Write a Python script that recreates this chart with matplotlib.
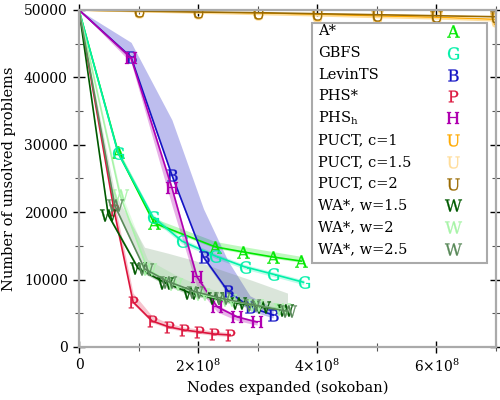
import matplotlib.pyplot as plt
import numpy as np
from matplotlib.lines import Line2D
from matplotlib.patches import Rectangle
from matplotlib.ticker import MultipleLocator, FixedLocator, FixedFormatter

plt.rcParams['font.family'] = 'DejaVu Serif'
plt.rcParams['mathtext.fontset'] = 'dejavuserif'

# x values are in units of 1e8 nodes expanded
astar_x = [0, 0.655, 1.26, 2.29, 2.76, 3.26, 3.73]
astar_y = [50000, 28900, 18400, 14850, 14100, 13350, 12750]
astar_lo = [50000, 28600, 18100, 14650, 13900, 13150, 12550]
astar_hi = [50000, 29400, 19100, 15650, 14900, 14150, 13450]

gbfs_x = [0, 0.655, 1.24, 1.73, 2.29, 2.78, 3.26, 3.77]
gbfs_y = [50000, 28800, 19300, 15700, 13500, 11900, 10800, 9600]
gbfs_lo = [50000, 28400, 18900, 15300, 13150, 11550, 10450, 9250]
gbfs_hi = [50000, 29200, 19700, 16100, 13850, 12250, 11150, 9950]

levin_x = [0, 0.874, 1.56, 2.09, 2.5, 2.87, 3.26]
levin_y = [50000, 43000, 25500, 13350, 8300, 5900, 4750]
levin_lo = [50000, 42600, 25000, 13000, 7800, 5400, 4300]
levin_hi = [50000, 45200, 33700, 20500, 12800, 7600, 5800]

phs_x = [0, 0.588, 0.908, 1.227, 1.513, 1.765, 2.017, 2.269, 2.538]
phs_y = [50000, 20300, 6680, 3860, 2970, 2520, 2230, 1930, 1780]
phs_lo = [50000, 20000, 6400, 3600, 2750, 2300, 2000, 1700, 1550]
phs_hi = [50000, 21800, 8000, 4600, 3500, 2950, 2650, 2350, 2150]

phsh_x = [0, 0.874, 1.56, 1.98, 2.32, 2.66, 2.99]
phsh_y = [50000, 42900, 23600, 10400, 5950, 4450, 3700]
phsh_lo = [50000, 42200, 21000, 8900, 5200, 3900, 3250]
phsh_hi = [50000, 43200, 23900, 10800, 6250, 4650, 3900]

puct_x = [0, 1, 2, 3, 4, 5, 6, 7]
puct1_y = [50000, 49800, 49650, 49500, 49300, 49100, 48900, 48600]
puct15_y = [50000, 49750, 49550, 49350, 49150, 48900, 48700, 48400]
puct2_y = [50000, 49850, 49700, 49600, 49450, 49300, 49150, 49000]

wa15_x = [0, 0.49, 0.99, 1.45, 1.87, 2.29, 2.67, 3.08, 3.46]
wa15_y = [50000, 19600, 11700, 9500, 8000, 7200, 6500, 5900, 5500]
wa15_lo = [50000, 19300, 11400, 9200, 7700, 6900, 6200, 5600, 5200]
wa15_hi = [50000, 19900, 12000, 9800, 8300, 7500, 6800, 6200, 5800]

wa2_x = [0, 0.69, 1.15, 1.6, 2.05, 2.5, 2.95, 3.4]
wa2_y = [50000, 22500, 11500, 9300, 7800, 6900, 6200, 5600]
wa2_lo = [50000, 22200, 11200, 9000, 7500, 6600, 5900, 5300]
wa2_hi = [50000, 23300, 13000, 10800, 9000, 7900, 7100, 6400]

wa25_x = [0, 0.6, 1.1, 1.5, 1.95, 2.4, 2.9, 3.5]
wa25_y = [50000, 21000, 11600, 9700, 8200, 7200, 6300, 5300]
wa25_lo = [50000, 20600, 11300, 9400, 7900, 6900, 6000, 5000]
wa25_hi = [50000, 22850, 14800, 13900, 12800, 11400, 9900, 8000]

series = [
    ("A*", "A", "#00e800", astar_x, astar_y, astar_lo, astar_hi, 0.25),
    ("GBFS", "G", "#00f0a8", gbfs_x, gbfs_y, gbfs_lo, gbfs_hi, 0.25),
    ("LevinTS", "B", "#1414c4", levin_x, levin_y, levin_lo, levin_hi, 0.28),
    ("PHS*", "P", "#dc143c", phs_x, phs_y, phs_lo, phs_hi, 0.25),
    (r"PHS$_\mathrm{h}$", "H", "#b000b0", phsh_x, phsh_y, phsh_lo, phsh_hi, 0.3),
    ("PUCT, c=1", "U", "#ffaa00", puct_x, puct1_y, None, None, 0.25),
    ("PUCT, c=1.5", "U", "#ffdd99", puct_x, puct15_y, None, None, 0.25),
    ("PUCT, c=2", "U", "#9a6a00", puct_x, puct2_y, None, None, 0.25),
    ("WA*, w=1.5", "W", "#005a00", wa15_x, wa15_y, wa15_lo, wa15_hi, 0.25),
    ("WA*, w=2", "W", "#a8f4a8", wa2_x, wa2_y, wa2_lo, wa2_hi, 0.3),
    ("WA*, w=2.5", "W", "#5a8a5a", wa25_x, wa25_y, wa25_lo, wa25_hi, 0.22),
]

# text markers are scaled by their largest side, so wide letters need more
marker_size = {"A": 9.0, "G": 9.0, "B": 8.6, "P": 8.4, "H": 9.2, "U": 8.8, "W": 12.2}

W, H = 500, 400
fig = plt.figure(figsize=(5, 4), dpi=100)
ax = fig.add_axes([0.158, 0.1325, 0.834, 0.8425])

for label, letter, color, xs, ys, lo, hi, alpha in series:
    xs = np.array(xs) * 1e8
    if lo is not None:
        ax.fill_between(xs, lo, hi, color=color, alpha=alpha, lw=0, zorder=1)
    marker = r"$\mathrm{%s}$" % letter
    ax.plot(xs, ys, color=color, lw=1.2, marker=marker, markevery=slice(1, None),
            markersize=marker_size[letter], markeredgewidth=0.2, zorder=2)

ax.set_xlim(0, 7e8)
ax.set_ylim(0, 50000)
ax.xaxis.set_major_locator(FixedLocator([0, 2e8, 4e8, 6e8]))
ax.xaxis.set_major_formatter(FixedFormatter(["0", r"$2{\times}10^{8}$",
                                             r"$4{\times}10^{8}$", r"$6{\times}10^{8}$"]))
ax.xaxis.set_minor_locator(MultipleLocator(1e8))
ax.yaxis.set_major_locator(MultipleLocator(10000))
ax.yaxis.set_minor_locator(MultipleLocator(5000))

ax.tick_params(which="both", direction="inout", top=True, right=True,
               labelsize=10, color="black")
ax.tick_params(which="major", length=9, width=1)
ax.tick_params(which="minor", length=6, width=0.8, color="#555555")
for sp in ax.spines.values():
    sp.set_color("#aaaaaa")
    sp.set_linewidth(1.6)

ax.set_xlabel("Nodes expanded (sokoban)", fontsize=10.5, labelpad=4)
ax.set_ylabel("Number of unsolved problems", fontsize=10.5, labelpad=6)

# hand-made key: labels left aligned, letter markers in a column on the right
box_l, box_t, box_r, box_b = 312, 23, 487, 263
fig.add_artist(Rectangle((box_l / W, 1 - box_b / H), (box_r - box_l) / W,
                         (box_b - box_t) / H, transform=fig.transFigure,
                         facecolor="white", edgecolor="#aaaaaa", lw=1.5, zorder=3))
row_y = 31
for label, letter, color, *_ in series:
    fig.text(318 / W, 1 - row_y / H, label, fontsize=10.5, va="center",
             ha="left", zorder=4)
    fig.add_artist(Line2D([453 / W], [1 - row_y / H], transform=fig.transFigure,
                          ls="none", marker=r"$\mathrm{%s}$" % letter, color=color,
                          markersize=marker_size[letter], markeredgewidth=0.2,
                          zorder=4))
    row_y += 21.8

fig.savefig("out.png", dpi=100)
